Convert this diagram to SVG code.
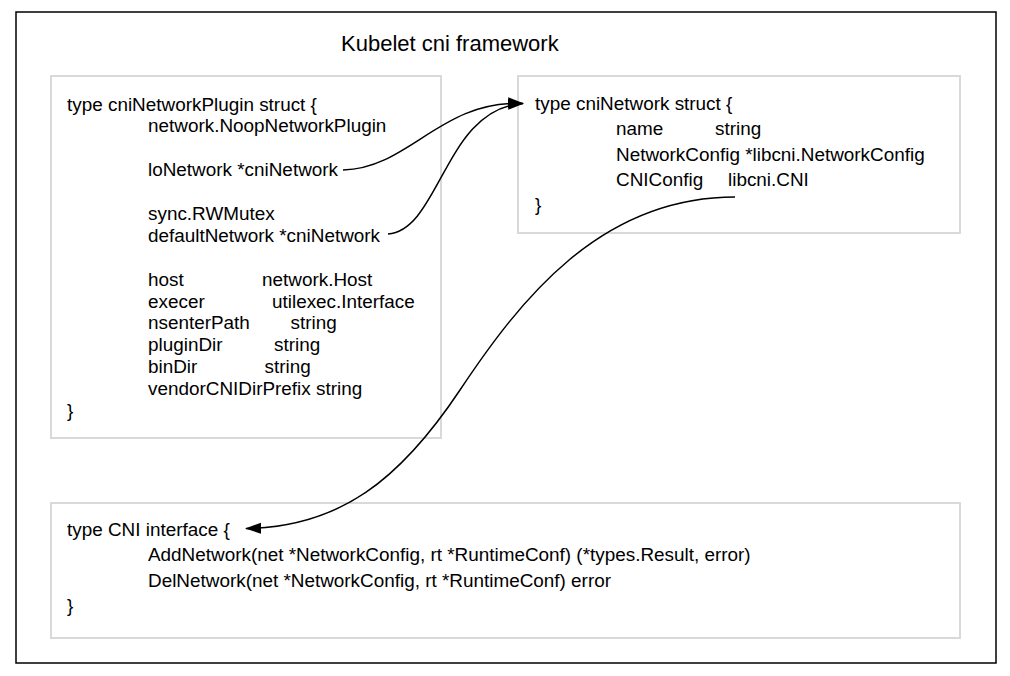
<svg xmlns="http://www.w3.org/2000/svg" width="1010" height="676" viewBox="0 0 1010 676">
<style>
text{font-family:"Liberation Sans",Arial,sans-serif;font-size:18.9px;fill:#000}
.title{font-size:22px}
.box{fill:#fff;stroke:#d9d9d9;stroke-width:2}
.frame{fill:#fff;stroke:#000;stroke-width:1.5}
.conn{fill:none;stroke:#000;stroke-width:1.5}
</style>
<defs>
<marker id="arrow" markerUnits="userSpaceOnUse" markerWidth="18" markerHeight="12" refX="15" refY="5.5" orient="auto">
<path d="M0,0 L16,5.5 L0,11 z" fill="#000"/>
</marker>
</defs>
<rect class="frame" x="16" y="12" width="980" height="651"/>
<text class="title" x="341" y="51">Kubelet cni framework</text>
<g id="cniNetworkPlugin">
<rect class="box" x="51" y="76" width="390" height="362"/>
<text x="67" y="110.5">type cniNetworkPlugin struct {</text>
<text x="148" y="132.4">network.NoopNetworkPlugin</text>
<text x="148" y="176.2">loNetwork *cniNetwork</text>
<text x="148" y="219.9">sync.RWMutex</text>
<text x="148" y="241.8">defaultNetwork *cniNetwork</text>
<text x="148" y="285.6">host</text><text x="262" y="285.6">network.Host</text>
<text x="148" y="307.5">execer</text><text x="272" y="307.5">utilexec.Interface</text>
<text x="148" y="329.4">nsenterPath</text><text x="290.5" y="329.4">string</text>
<text x="148" y="351.3">pluginDir</text><text x="274" y="351.3">string</text>
<text x="148" y="373.2">binDir</text><text x="264.5" y="373.2">string</text>
<text x="148" y="395.1">vendorCNIDirPrefix string</text>
<text x="67" y="417">}</text>
</g>
<g id="cniNetwork">
<rect class="box" x="518" y="76" width="442" height="157"/>
<text x="535" y="110">type cniNetwork struct {</text>
<text x="616" y="135">name</text><text x="715" y="135">string</text>
<text x="616" y="160.5">NetworkConfig *libcni.NetworkConfig</text>
<text x="616" y="186">CNIConfig</text><text x="728" y="186">libcni.CNI</text>
<text x="535" y="211">}</text>
</g>
<g id="CNI">
<rect class="box" x="51" y="503" width="909" height="135"/>
<text x="67" y="536">type CNI interface {</text>
<text x="148" y="561">AddNetwork(net *NetworkConfig, rt *RuntimeConf) (*types.Result, error)</text>
<text x="148" y="586.5">DelNetwork(net *NetworkConfig, rt *RuntimeConf) error</text>
<text x="67" y="612">}</text>
</g>
<g id="connectors">
<path class="conn" marker-end="url(#arrow)" d="M343,170 C410,168 440,100 523,103.5"/>
<path class="conn" marker-end="url(#arrow)" d="M388,234 C440,230 445,108 523,103.5"/>
<path class="conn" marker-end="url(#arrow)" d="M735,197 C600,197 520,300 460,390 C400,480 340,527 246,528.5"/>
</g>
</svg>
